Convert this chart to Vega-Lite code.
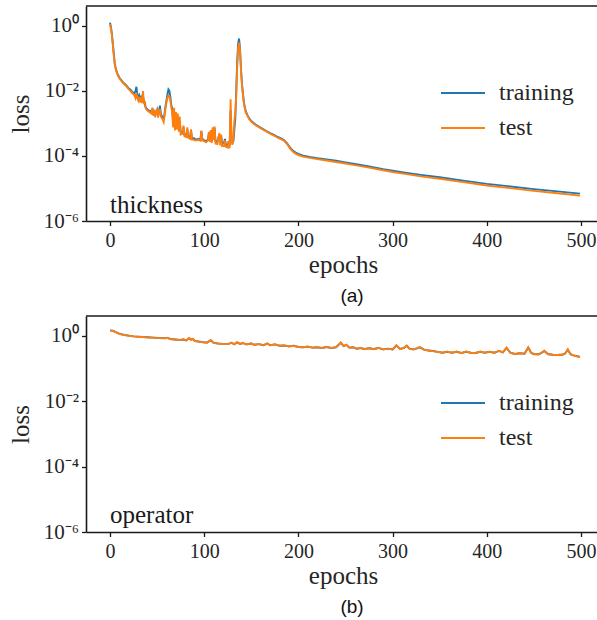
{
  "$schema": "https://vega.github.io/schema/vega-lite/v6.json",
  "padding": {"left": 8, "top": 5, "right": 0, "bottom": 0},
  "background": "white",
  "config": {
    "view": {"stroke": null},
    "font": "Liberation Serif",
    "axis": {"grid": false, "domainColor": "#1a1a1a", "domainWidth": 1.6, "tickColor": "#1a1a1a", "tickWidth": 1.3, "tickSize": 4.5, "labelFont": "Liberation Serif", "labelFontSize": 20, "labelColor": "#262626", "titleFont": "Liberation Serif", "titleFontSize": 25, "titleFontWeight": "normal", "titleColor": "#262626"},
    "axisX": {"labelPadding": 5, "titlePadding": 2, "labelFlush": false},
    "axisY": {"labelPadding": 3, "titlePadding": 10, "labelFontSize": 21},
    "legend": {"orient": "none", "legendX": 354, "legendY": 64, "direction": "vertical", "title": null, "symbolType": "stroke", "symbolSize": 1936, "symbolStrokeWidth": 2, "labelFont": "Liberation Serif", "labelFontSize": 24, "labelColor": "#262626", "labelOffset": 13, "rowPadding": -30, "padding": 0}
  },
  "datasets": {
    "a": [
      {"s":"training","epoch":0,"loss":1.23},{"s":"training","epoch":1,"loss":0.89},{"s":"training","epoch":2,"loss":0.56},{"s":"training","epoch":3,"loss":0.28},{"s":"training","epoch":4,"loss":0.14},{"s":"training","epoch":5,"loss":0.071},{"s":"training","epoch":6,"loss":0.05},{"s":"training","epoch":7,"loss":0.04},{"s":"training","epoch":8,"loss":0.033},{"s":"training","epoch":10,"loss":0.025},{"s":"training","epoch":12,"loss":0.021},{"s":"training","epoch":14,"loss":0.0178},{"s":"training","epoch":16,"loss":0.0158},{"s":"training","epoch":18,"loss":0.0138},{"s":"training","epoch":20,"loss":0.0117},{"s":"training","epoch":22,"loss":0.0105},{"s":"training","epoch":24,"loss":0.0089},{"s":"training","epoch":26,"loss":0.0083},{"s":"training","epoch":27,"loss":0.01},{"s":"training","epoch":28,"loss":0.0132},{"s":"training","epoch":29,"loss":0.0079},{"s":"training","epoch":30,"loss":0.006},{"s":"training","epoch":31,"loss":0.0071},{"s":"training","epoch":32,"loss":0.0052},{"s":"training","epoch":33,"loss":0.0063},{"s":"training","epoch":34,"loss":0.0048},{"s":"training","epoch":35,"loss":0.0071},{"s":"training","epoch":36,"loss":0.0045},{"s":"training","epoch":38,"loss":0.003},{"s":"training","epoch":40,"loss":0.0026},{"s":"training","epoch":42,"loss":0.0024},{"s":"training","epoch":44,"loss":0.0022},{"s":"training","epoch":45,"loss":0.0028},{"s":"training","epoch":46,"loss":0.0019},{"s":"training","epoch":47,"loss":0.0025},{"s":"training","epoch":48,"loss":0.0018},{"s":"training","epoch":50,"loss":0.0026},{"s":"training","epoch":51,"loss":0.00174},{"s":"training","epoch":52,"loss":0.0024},{"s":"training","epoch":53,"loss":0.0035},{"s":"training","epoch":54,"loss":0.0019},{"s":"training","epoch":56,"loss":0.0015},{"s":"training","epoch":57,"loss":0.00126},{"s":"training","epoch":58,"loss":0.0021},{"s":"training","epoch":59,"loss":0.0035},{"s":"training","epoch":60,"loss":0.0052},{"s":"training","epoch":61,"loss":0.0079},{"s":"training","epoch":62,"loss":0.011},{"s":"training","epoch":63,"loss":0.01},{"s":"training","epoch":64,"loss":0.0066},{"s":"training","epoch":65,"loss":0.0038},{"s":"training","epoch":66,"loss":0.0028},{"s":"training","epoch":67,"loss":0.00112},{"s":"training","epoch":68,"loss":0.0024},{"s":"training","epoch":69,"loss":0.00079},{"s":"training","epoch":70,"loss":0.00158},{"s":"training","epoch":71,"loss":0.0019},{"s":"training","epoch":72,"loss":0.00089},{"s":"training","epoch":73,"loss":0.00071},{"s":"training","epoch":74,"loss":0.00112},{"s":"training","epoch":75,"loss":0.00056},{"s":"training","epoch":77,"loss":0.0005},{"s":"training","epoch":78,"loss":0.00076},{"s":"training","epoch":79,"loss":0.00045},{"s":"training","epoch":81,"loss":0.00042},{"s":"training","epoch":82,"loss":0.00066},{"s":"training","epoch":83,"loss":0.0004},{"s":"training","epoch":85,"loss":0.00037},{"s":"training","epoch":86,"loss":0.0006},{"s":"training","epoch":87,"loss":0.00035},{"s":"training","epoch":89,"loss":0.00035},{"s":"training","epoch":90,"loss":0.00033},{"s":"training","epoch":92,"loss":0.00032},{"s":"training","epoch":94,"loss":0.00033},{"s":"training","epoch":96,"loss":0.00032},{"s":"training","epoch":97,"loss":0.00056},{"s":"training","epoch":98,"loss":0.00033},{"s":"training","epoch":100,"loss":0.0003},{"s":"training","epoch":102,"loss":0.00028},{"s":"training","epoch":104,"loss":0.00032},{"s":"training","epoch":105,"loss":0.0005},{"s":"training","epoch":106,"loss":0.0003},{"s":"training","epoch":107,"loss":0.00048},{"s":"training","epoch":108,"loss":0.00028},{"s":"training","epoch":109,"loss":0.00063},{"s":"training","epoch":110,"loss":0.00035},{"s":"training","epoch":111,"loss":0.00071},{"s":"training","epoch":112,"loss":0.00028},{"s":"training","epoch":114,"loss":0.00027},{"s":"training","epoch":116,"loss":0.00045},{"s":"training","epoch":117,"loss":0.00025},{"s":"training","epoch":118,"loss":0.0004},{"s":"training","epoch":119,"loss":0.00025},{"s":"training","epoch":121,"loss":0.00024},{"s":"training","epoch":122,"loss":0.00033},{"s":"training","epoch":123,"loss":0.00022},{"s":"training","epoch":125,"loss":0.00021},{"s":"training","epoch":126,"loss":0.00028},{"s":"training","epoch":127,"loss":0.0002},{"s":"training","epoch":128,"loss":0.0025},{"s":"training","epoch":129,"loss":0.00032},{"s":"training","epoch":130,"loss":0.00025},{"s":"training","epoch":131,"loss":0.00028},{"s":"training","epoch":132,"loss":0.00063},{"s":"training","epoch":133,"loss":0.0014},{"s":"training","epoch":134,"loss":0.01},{"s":"training","epoch":135,"loss":0.079},{"s":"training","epoch":136,"loss":0.28},{"s":"training","epoch":137,"loss":0.4},{"s":"training","epoch":138,"loss":0.2},{"s":"training","epoch":139,"loss":0.05},{"s":"training","epoch":140,"loss":0.0178},{"s":"training","epoch":141,"loss":0.0089},{"s":"training","epoch":142,"loss":0.0048},{"s":"training","epoch":143,"loss":0.0032},{"s":"training","epoch":144,"loss":0.0024},{"s":"training","epoch":146,"loss":0.00174},{"s":"training","epoch":148,"loss":0.00138},{"s":"training","epoch":150,"loss":0.00117},{"s":"training","epoch":152,"loss":0.00105},{"s":"training","epoch":155,"loss":0.00089},{"s":"training","epoch":158,"loss":0.00079},{"s":"training","epoch":162,"loss":0.00068},{"s":"training","epoch":166,"loss":0.00058},{"s":"training","epoch":170,"loss":0.0005},{"s":"training","epoch":174,"loss":0.00044},{"s":"training","epoch":178,"loss":0.00038},{"s":"training","epoch":182,"loss":0.00034},{"s":"training","epoch":185,"loss":0.0003},{"s":"training","epoch":188,"loss":0.00024},{"s":"training","epoch":191,"loss":0.000182},{"s":"training","epoch":194,"loss":0.000145},{"s":"training","epoch":197,"loss":0.000126},{"s":"training","epoch":200,"loss":0.000115},{"s":"training","epoch":205,"loss":0.000102},{"s":"training","epoch":212,"loss":9.3e-5},{"s":"training","epoch":220,"loss":8.5e-5},{"s":"training","epoch":230,"loss":7.8e-5},{"s":"training","epoch":240,"loss":7.1e-5},{"s":"training","epoch":250,"loss":6.3e-5},{"s":"training","epoch":260,"loss":5.6e-5},{"s":"training","epoch":275,"loss":4.7e-5},{"s":"training","epoch":290,"loss":3.9e-5},{"s":"training","epoch":300,"loss":3.5e-5},{"s":"training","epoch":315,"loss":3.0e-5},{"s":"training","epoch":330,"loss":2.6e-5},{"s":"training","epoch":350,"loss":2.2e-5},{"s":"training","epoch":375,"loss":1.74e-5},{"s":"training","epoch":400,"loss":1.38e-5},{"s":"training","epoch":425,"loss":1.15e-5},{"s":"training","epoch":450,"loss":9.5e-6},{"s":"training","epoch":475,"loss":8.1e-6},{"s":"training","epoch":499,"loss":6.9e-6},
      {"s":"test","epoch":0,"loss":1.1},{"s":"test","epoch":1,"loss":0.8},{"s":"test","epoch":2,"loss":0.5},{"s":"test","epoch":3,"loss":0.25},{"s":"test","epoch":4,"loss":0.12},{"s":"test","epoch":5,"loss":0.065},{"s":"test","epoch":6,"loss":0.046},{"s":"test","epoch":7,"loss":0.037},{"s":"test","epoch":8,"loss":0.031},{"s":"test","epoch":10,"loss":0.024},{"s":"test","epoch":12,"loss":0.02},{"s":"test","epoch":14,"loss":0.017},{"s":"test","epoch":16,"loss":0.015},{"s":"test","epoch":18,"loss":0.013},{"s":"test","epoch":20,"loss":0.011},{"s":"test","epoch":22,"loss":0.0095},{"s":"test","epoch":24,"loss":0.0082},{"s":"test","epoch":26,"loss":0.0072},{"s":"test","epoch":27,"loss":0.006},{"s":"test","epoch":28,"loss":0.0085},{"s":"test","epoch":29,"loss":0.006},{"s":"test","epoch":30,"loss":0.005},{"s":"test","epoch":31,"loss":0.0065},{"s":"test","epoch":32,"loss":0.0045},{"s":"test","epoch":33,"loss":0.0055},{"s":"test","epoch":34,"loss":0.0042},{"s":"test","epoch":35,"loss":0.0098},{"s":"test","epoch":36,"loss":0.004},{"s":"test","epoch":37,"loss":0.0048},{"s":"test","epoch":38,"loss":0.0028},{"s":"test","epoch":40,"loss":0.0024},{"s":"test","epoch":42,"loss":0.0022},{"s":"test","epoch":44,"loss":0.002},{"s":"test","epoch":45,"loss":0.003},{"s":"test","epoch":46,"loss":0.0017},{"s":"test","epoch":47,"loss":0.0026},{"s":"test","epoch":48,"loss":0.0016},{"s":"test","epoch":50,"loss":0.0028},{"s":"test","epoch":51,"loss":0.0015},{"s":"test","epoch":52,"loss":0.0022},{"s":"test","epoch":53,"loss":0.0027},{"s":"test","epoch":54,"loss":0.0016},{"s":"test","epoch":56,"loss":0.0013},{"s":"test","epoch":57,"loss":0.0011},{"s":"test","epoch":58,"loss":0.0018},{"s":"test","epoch":59,"loss":0.003},{"s":"test","epoch":60,"loss":0.0045},{"s":"test","epoch":61,"loss":0.006},{"s":"test","epoch":62,"loss":0.0072},{"s":"test","epoch":63,"loss":0.0068},{"s":"test","epoch":64,"loss":0.005},{"s":"test","epoch":65,"loss":0.0032},{"s":"test","epoch":66,"loss":0.0022},{"s":"test","epoch":67,"loss":0.00075},{"s":"test","epoch":68,"loss":0.003},{"s":"test","epoch":69,"loss":0.0006},{"s":"test","epoch":70,"loss":0.0022},{"s":"test","epoch":71,"loss":0.00065},{"s":"test","epoch":72,"loss":0.002},{"s":"test","epoch":73,"loss":0.00055},{"s":"test","epoch":74,"loss":0.0016},{"s":"test","epoch":75,"loss":0.00045},{"s":"test","epoch":77,"loss":0.00048},{"s":"test","epoch":78,"loss":0.00085},{"s":"test","epoch":79,"loss":0.0004},{"s":"test","epoch":81,"loss":0.00038},{"s":"test","epoch":82,"loss":0.00075},{"s":"test","epoch":83,"loss":0.00036},{"s":"test","epoch":85,"loss":0.00033},{"s":"test","epoch":86,"loss":0.00065},{"s":"test","epoch":87,"loss":0.00032},{"s":"test","epoch":89,"loss":0.00031},{"s":"test","epoch":90,"loss":0.0003},{"s":"test","epoch":92,"loss":0.0003},{"s":"test","epoch":94,"loss":0.00031},{"s":"test","epoch":96,"loss":0.00029},{"s":"test","epoch":97,"loss":0.0006},{"s":"test","epoch":98,"loss":0.0003},{"s":"test","epoch":100,"loss":0.00028},{"s":"test","epoch":102,"loss":0.00026},{"s":"test","epoch":104,"loss":0.0003},{"s":"test","epoch":105,"loss":0.00055},{"s":"test","epoch":106,"loss":0.00027},{"s":"test","epoch":107,"loss":0.00062},{"s":"test","epoch":108,"loss":0.00025},{"s":"test","epoch":109,"loss":0.00075},{"s":"test","epoch":110,"loss":0.0003},{"s":"test","epoch":111,"loss":0.0008},{"s":"test","epoch":112,"loss":0.00024},{"s":"test","epoch":114,"loss":0.00023},{"s":"test","epoch":116,"loss":0.0005},{"s":"test","epoch":117,"loss":0.00021},{"s":"test","epoch":118,"loss":0.00045},{"s":"test","epoch":119,"loss":0.0002},{"s":"test","epoch":121,"loss":0.0002},{"s":"test","epoch":122,"loss":0.0003},{"s":"test","epoch":123,"loss":0.00019},{"s":"test","epoch":125,"loss":0.00018},{"s":"test","epoch":126,"loss":0.00028},{"s":"test","epoch":127,"loss":0.00017},{"s":"test","epoch":128,"loss":0.0055},{"s":"test","epoch":129,"loss":0.0003},{"s":"test","epoch":130,"loss":0.00022},{"s":"test","epoch":131,"loss":0.00035},{"s":"test","epoch":132,"loss":0.0012},{"s":"test","epoch":133,"loss":0.002},{"s":"test","epoch":134,"loss":0.007},{"s":"test","epoch":135,"loss":0.05},{"s":"test","epoch":136,"loss":0.2},{"s":"test","epoch":137,"loss":0.3},{"s":"test","epoch":138,"loss":0.18},{"s":"test","epoch":139,"loss":0.045},{"s":"test","epoch":140,"loss":0.016},{"s":"test","epoch":141,"loss":0.008},{"s":"test","epoch":142,"loss":0.0044},{"s":"test","epoch":143,"loss":0.003},{"s":"test","epoch":144,"loss":0.0022},{"s":"test","epoch":146,"loss":0.00165},{"s":"test","epoch":148,"loss":0.0013},{"s":"test","epoch":150,"loss":0.00112},{"s":"test","epoch":152,"loss":0.001},{"s":"test","epoch":155,"loss":0.00085},{"s":"test","epoch":158,"loss":0.00076},{"s":"test","epoch":162,"loss":0.00065},{"s":"test","epoch":166,"loss":0.00056},{"s":"test","epoch":170,"loss":0.00048},{"s":"test","epoch":174,"loss":0.00042},{"s":"test","epoch":178,"loss":0.00036},{"s":"test","epoch":182,"loss":0.00032},{"s":"test","epoch":185,"loss":0.00029},{"s":"test","epoch":188,"loss":0.00023},{"s":"test","epoch":191,"loss":0.00017},{"s":"test","epoch":194,"loss":0.000135},{"s":"test","epoch":197,"loss":0.000117},{"s":"test","epoch":200,"loss":0.000106},{"s":"test","epoch":205,"loss":9.5e-5},{"s":"test","epoch":212,"loss":8.7e-5},{"s":"test","epoch":220,"loss":7.9e-5},{"s":"test","epoch":230,"loss":7.2e-5},{"s":"test","epoch":240,"loss":6.5e-5},{"s":"test","epoch":250,"loss":5.8e-5},{"s":"test","epoch":260,"loss":5.2e-5},{"s":"test","epoch":275,"loss":4.35e-5},{"s":"test","epoch":290,"loss":3.6e-5},{"s":"test","epoch":300,"loss":3.2e-5},{"s":"test","epoch":315,"loss":2.75e-5},{"s":"test","epoch":330,"loss":2.35e-5},{"s":"test","epoch":350,"loss":1.98e-5},{"s":"test","epoch":375,"loss":1.56e-5},{"s":"test","epoch":400,"loss":1.23e-5},{"s":"test","epoch":425,"loss":1.02e-5},{"s":"test","epoch":450,"loss":8.4e-6},{"s":"test","epoch":475,"loss":7.1e-6},{"s":"test","epoch":499,"loss":6.0e-6}
    ],
    "b": [
      {"s":"training","epoch":0,"loss":1.45},{"s":"training","epoch":3,"loss":1.41},{"s":"training","epoch":6,"loss":1.29},{"s":"training","epoch":9,"loss":1.17},{"s":"training","epoch":12,"loss":1.1},{"s":"training","epoch":15,"loss":1.05},{"s":"training","epoch":20,"loss":1.0},{"s":"training","epoch":25,"loss":0.95},{"s":"training","epoch":30,"loss":0.93},{"s":"training","epoch":35,"loss":0.91},{"s":"training","epoch":40,"loss":0.89},{"s":"training","epoch":46,"loss":0.87},{"s":"training","epoch":52,"loss":0.85},{"s":"training","epoch":58,"loss":0.83},{"s":"training","epoch":61,"loss":0.85},{"s":"training","epoch":64,"loss":0.79},{"s":"training","epoch":70,"loss":0.76},{"s":"training","epoch":74,"loss":0.74},{"s":"training","epoch":78,"loss":0.76},{"s":"training","epoch":81,"loss":0.72},{"s":"training","epoch":84,"loss":0.83},{"s":"training","epoch":86,"loss":0.76},{"s":"training","epoch":88,"loss":0.79},{"s":"training","epoch":90,"loss":0.69},{"s":"training","epoch":94,"loss":0.66},{"s":"training","epoch":99,"loss":0.63},{"s":"training","epoch":103,"loss":0.62},{"s":"training","epoch":107,"loss":0.72},{"s":"training","epoch":110,"loss":0.6},{"s":"training","epoch":115,"loss":0.575},{"s":"training","epoch":120,"loss":0.56},{"s":"training","epoch":125,"loss":0.55},{"s":"training","epoch":129,"loss":0.6},{"s":"training","epoch":132,"loss":0.55},{"s":"training","epoch":135,"loss":0.62},{"s":"training","epoch":138,"loss":0.56},{"s":"training","epoch":141,"loss":0.59},{"s":"training","epoch":145,"loss":0.54},{"s":"training","epoch":150,"loss":0.575},{"s":"training","epoch":153,"loss":0.525},{"s":"training","epoch":158,"loss":0.55},{"s":"training","epoch":163,"loss":0.51},{"s":"training","epoch":167,"loss":0.575},{"s":"training","epoch":170,"loss":0.51},{"s":"training","epoch":175,"loss":0.54},{"s":"training","epoch":180,"loss":0.49},{"s":"training","epoch":185,"loss":0.5},{"s":"training","epoch":190,"loss":0.47},{"s":"training","epoch":195,"loss":0.49},{"s":"training","epoch":200,"loss":0.45},{"s":"training","epoch":205,"loss":0.44},{"s":"training","epoch":210,"loss":0.46},{"s":"training","epoch":215,"loss":0.43},{"s":"training","epoch":220,"loss":0.44},{"s":"training","epoch":225,"loss":0.42},{"s":"training","epoch":230,"loss":0.45},{"s":"training","epoch":235,"loss":0.42},{"s":"training","epoch":240,"loss":0.44},{"s":"training","epoch":245,"loss":0.6},{"s":"training","epoch":248,"loss":0.48},{"s":"training","epoch":251,"loss":0.525},{"s":"training","epoch":254,"loss":0.43},{"s":"training","epoch":258,"loss":0.44},{"s":"training","epoch":262,"loss":0.4},{"s":"training","epoch":266,"loss":0.42},{"s":"training","epoch":270,"loss":0.39},{"s":"training","epoch":275,"loss":0.41},{"s":"training","epoch":280,"loss":0.39},{"s":"training","epoch":285,"loss":0.42},{"s":"training","epoch":290,"loss":0.38},{"s":"training","epoch":295,"loss":0.4},{"s":"training","epoch":300,"loss":0.38},{"s":"training","epoch":304,"loss":0.5},{"s":"training","epoch":308,"loss":0.39},{"s":"training","epoch":312,"loss":0.42},{"s":"training","epoch":315,"loss":0.49},{"s":"training","epoch":318,"loss":0.4},{"s":"training","epoch":322,"loss":0.38},{"s":"training","epoch":326,"loss":0.41},{"s":"training","epoch":329,"loss":0.44},{"s":"training","epoch":333,"loss":0.38},{"s":"training","epoch":338,"loss":0.35},{"s":"training","epoch":343,"loss":0.34},{"s":"training","epoch":348,"loss":0.32},{"s":"training","epoch":353,"loss":0.3},{"s":"training","epoch":358,"loss":0.32},{"s":"training","epoch":363,"loss":0.3},{"s":"training","epoch":368,"loss":0.32},{"s":"training","epoch":373,"loss":0.295},{"s":"training","epoch":378,"loss":0.32},{"s":"training","epoch":383,"loss":0.3},{"s":"training","epoch":388,"loss":0.295},{"s":"training","epoch":393,"loss":0.32},{"s":"training","epoch":398,"loss":0.3},{"s":"training","epoch":403,"loss":0.32},{"s":"training","epoch":408,"loss":0.3},{"s":"training","epoch":413,"loss":0.34},{"s":"training","epoch":417,"loss":0.31},{"s":"training","epoch":421,"loss":0.42},{"s":"training","epoch":425,"loss":0.3},{"s":"training","epoch":430,"loss":0.275},{"s":"training","epoch":435,"loss":0.29},{"s":"training","epoch":440,"loss":0.28},{"s":"training","epoch":444,"loss":0.43},{"s":"training","epoch":447,"loss":0.3},{"s":"training","epoch":450,"loss":0.275},{"s":"training","epoch":455,"loss":0.27},{"s":"training","epoch":458,"loss":0.295},{"s":"training","epoch":461,"loss":0.34},{"s":"training","epoch":465,"loss":0.275},{"s":"training","epoch":470,"loss":0.26},{"s":"training","epoch":475,"loss":0.257},{"s":"training","epoch":480,"loss":0.26},{"s":"training","epoch":483,"loss":0.28},{"s":"training","epoch":486,"loss":0.37},{"s":"training","epoch":489,"loss":0.27},{"s":"training","epoch":492,"loss":0.25},{"s":"training","epoch":495,"loss":0.24},{"s":"training","epoch":499,"loss":0.224},
      {"s":"test","epoch":0,"loss":1.42},{"s":"test","epoch":3,"loss":1.39},{"s":"test","epoch":6,"loss":1.27},{"s":"test","epoch":9,"loss":1.15},{"s":"test","epoch":12,"loss":1.09},{"s":"test","epoch":15,"loss":1.04},{"s":"test","epoch":20,"loss":0.99},{"s":"test","epoch":25,"loss":0.95},{"s":"test","epoch":30,"loss":0.92},{"s":"test","epoch":35,"loss":0.91},{"s":"test","epoch":40,"loss":0.88},{"s":"test","epoch":46,"loss":0.87},{"s":"test","epoch":52,"loss":0.84},{"s":"test","epoch":58,"loss":0.84},{"s":"test","epoch":61,"loss":0.86},{"s":"test","epoch":64,"loss":0.78},{"s":"test","epoch":70,"loss":0.75},{"s":"test","epoch":74,"loss":0.73},{"s":"test","epoch":78,"loss":0.78},{"s":"test","epoch":81,"loss":0.71},{"s":"test","epoch":84,"loss":0.86},{"s":"test","epoch":86,"loss":0.74},{"s":"test","epoch":88,"loss":0.8},{"s":"test","epoch":90,"loss":0.68},{"s":"test","epoch":94,"loss":0.66},{"s":"test","epoch":99,"loss":0.62},{"s":"test","epoch":103,"loss":0.61},{"s":"test","epoch":107,"loss":0.74},{"s":"test","epoch":110,"loss":0.6},{"s":"test","epoch":115,"loss":0.57},{"s":"test","epoch":120,"loss":0.555},{"s":"test","epoch":125,"loss":0.55},{"s":"test","epoch":129,"loss":0.61},{"s":"test","epoch":132,"loss":0.545},{"s":"test","epoch":135,"loss":0.63},{"s":"test","epoch":138,"loss":0.555},{"s":"test","epoch":141,"loss":0.6},{"s":"test","epoch":145,"loss":0.535},{"s":"test","epoch":150,"loss":0.58},{"s":"test","epoch":153,"loss":0.52},{"s":"test","epoch":158,"loss":0.56},{"s":"test","epoch":163,"loss":0.505},{"s":"test","epoch":167,"loss":0.58},{"s":"test","epoch":170,"loss":0.505},{"s":"test","epoch":175,"loss":0.545},{"s":"test","epoch":180,"loss":0.49},{"s":"test","epoch":185,"loss":0.505},{"s":"test","epoch":190,"loss":0.465},{"s":"test","epoch":195,"loss":0.49},{"s":"test","epoch":200,"loss":0.445},{"s":"test","epoch":205,"loss":0.44},{"s":"test","epoch":210,"loss":0.465},{"s":"test","epoch":215,"loss":0.425},{"s":"test","epoch":220,"loss":0.445},{"s":"test","epoch":225,"loss":0.415},{"s":"test","epoch":230,"loss":0.455},{"s":"test","epoch":235,"loss":0.415},{"s":"test","epoch":240,"loss":0.445},{"s":"test","epoch":245,"loss":0.62},{"s":"test","epoch":248,"loss":0.48},{"s":"test","epoch":251,"loss":0.53},{"s":"test","epoch":254,"loss":0.425},{"s":"test","epoch":258,"loss":0.445},{"s":"test","epoch":262,"loss":0.395},{"s":"test","epoch":266,"loss":0.425},{"s":"test","epoch":270,"loss":0.385},{"s":"test","epoch":275,"loss":0.415},{"s":"test","epoch":280,"loss":0.385},{"s":"test","epoch":285,"loss":0.425},{"s":"test","epoch":290,"loss":0.375},{"s":"test","epoch":295,"loss":0.4},{"s":"test","epoch":300,"loss":0.375},{"s":"test","epoch":304,"loss":0.51},{"s":"test","epoch":308,"loss":0.385},{"s":"test","epoch":312,"loss":0.425},{"s":"test","epoch":315,"loss":0.5},{"s":"test","epoch":318,"loss":0.395},{"s":"test","epoch":322,"loss":0.375},{"s":"test","epoch":326,"loss":0.415},{"s":"test","epoch":329,"loss":0.45},{"s":"test","epoch":333,"loss":0.375},{"s":"test","epoch":338,"loss":0.35},{"s":"test","epoch":343,"loss":0.335},{"s":"test","epoch":348,"loss":0.32},{"s":"test","epoch":353,"loss":0.3},{"s":"test","epoch":358,"loss":0.325},{"s":"test","epoch":363,"loss":0.3},{"s":"test","epoch":368,"loss":0.325},{"s":"test","epoch":373,"loss":0.29},{"s":"test","epoch":378,"loss":0.325},{"s":"test","epoch":383,"loss":0.3},{"s":"test","epoch":388,"loss":0.29},{"s":"test","epoch":393,"loss":0.325},{"s":"test","epoch":398,"loss":0.3},{"s":"test","epoch":403,"loss":0.325},{"s":"test","epoch":408,"loss":0.295},{"s":"test","epoch":413,"loss":0.345},{"s":"test","epoch":417,"loss":0.31},{"s":"test","epoch":421,"loss":0.43},{"s":"test","epoch":425,"loss":0.3},{"s":"test","epoch":430,"loss":0.27},{"s":"test","epoch":435,"loss":0.295},{"s":"test","epoch":440,"loss":0.28},{"s":"test","epoch":444,"loss":0.44},{"s":"test","epoch":447,"loss":0.3},{"s":"test","epoch":450,"loss":0.27},{"s":"test","epoch":455,"loss":0.265},{"s":"test","epoch":458,"loss":0.3},{"s":"test","epoch":461,"loss":0.345},{"s":"test","epoch":465,"loss":0.27},{"s":"test","epoch":470,"loss":0.26},{"s":"test","epoch":475,"loss":0.255},{"s":"test","epoch":480,"loss":0.265},{"s":"test","epoch":483,"loss":0.285},{"s":"test","epoch":486,"loss":0.38},{"s":"test","epoch":489,"loss":0.265},{"s":"test","epoch":492,"loss":0.25},{"s":"test","epoch":495,"loss":0.235},{"s":"test","epoch":499,"loss":0.22}
    ]
  },
  "spacing": 9,
  "resolve": {"scale": {"color": "independent"}, "legend": {"color": "independent"}},
  "vconcat": [
    {
      "width": 514, "height": 215,
      "title": {"text": "(a)", "orient": "bottom", "frame": "group", "anchor": "middle", "dx": 9, "offset": 9, "font": "Liberation Sans", "fontSize": 19, "fontWeight": "normal", "color": "#111"},
      "layer": [
        {
          "data": {"name": "a"},
          "transform": [{"filter": "datum.s === 'training'"}],
          "mark": {"type": "line", "strokeWidth": 1.9, "clip": true},
          "encoding": {
            "x": {"field": "epoch", "type": "quantitative", "scale": {"domain": [-25.5, 520.2], "nice": false, "zero": false}, "axis": {"title": "epochs", "values": [0, 100, 200, 300, 400, 500]}},
            "y": {"field": "loss", "type": "quantitative", "scale": {"type": "log", "domain": [1e-6, 3.98], "nice": false}, "axis": {"title": "loss", "values": [1e-6, 1e-4, 1e-2, 1], "labelExpr": "datum.value > 0.1 ? '10⁰' : datum.value > 0.001 ? '10⁻²' : datum.value > 0.00001 ? '10⁻⁴' : '10⁻⁶'"}},
            "color": {"field": "s", "type": "nominal", "scale": {"domain": ["training", "test"], "range": ["#1f77b4", "#ff7f0e"]}, "legend": {}}
          }
        },
        {
          "data": {"name": "a"},
          "transform": [{"filter": "datum.s === 'test'"}],
          "mark": {"type": "line", "strokeWidth": 1.9, "clip": true},
          "encoding": {
            "x": {"field": "epoch", "type": "quantitative", "title": "epochs"},
            "y": {"field": "loss", "type": "quantitative", "title": "loss"},
            "color": {"field": "s", "type": "nominal"}
          }
        },
        {
          "data": {"values": [{"label": "thickness"}]},
          "mark": {"type": "text", "align": "left", "baseline": "alphabetic", "font": "Liberation Serif", "fontSize": 25, "color": "#1a1a1a"},
          "encoding": {"text": {"field": "label"}, "x": {"datum": 0, "type": "quantitative", "title": "epochs"}, "y": {"datum": 1.8e-6, "type": "quantitative", "title": "loss"}}
        },
        {
          "data": {"values": [{}]},
          "mark": {"type": "rule", "color": "#1a1a1a", "strokeWidth": 1.6},
          "encoding": {"y": {"datum": 3.98, "type": "quantitative", "title": "loss"}}
        }
      ]
    },
    {
      "width": 514, "height": 216,
      "title": {"text": "(b)", "orient": "bottom", "frame": "group", "anchor": "middle", "dx": 9, "offset": 9, "font": "Liberation Sans", "fontSize": 19, "fontWeight": "normal", "color": "#111"},
      "layer": [
        {
          "data": {"name": "b"},
          "transform": [{"filter": "datum.s === 'training'"}],
          "mark": {"type": "line", "strokeWidth": 1.9, "clip": true},
          "encoding": {
            "x": {"field": "epoch", "type": "quantitative", "scale": {"domain": [-25.5, 520.2], "nice": false, "zero": false}, "axis": {"title": "epochs", "values": [0, 100, 200, 300, 400, 500]}},
            "y": {"field": "loss", "type": "quantitative", "scale": {"type": "log", "domain": [1e-6, 3.98], "nice": false}, "axis": {"title": "loss", "values": [1e-6, 1e-4, 1e-2, 1], "labelExpr": "datum.value > 0.1 ? '10⁰' : datum.value > 0.001 ? '10⁻²' : datum.value > 0.00001 ? '10⁻⁴' : '10⁻⁶'"}},
            "color": {"field": "s", "type": "nominal", "scale": {"domain": ["training", "test"], "range": ["#1f77b4", "#ff7f0e"]}, "legend": {}}
          }
        },
        {
          "data": {"name": "b"},
          "transform": [{"filter": "datum.s === 'test'"}],
          "mark": {"type": "line", "strokeWidth": 1.9, "clip": true},
          "encoding": {
            "x": {"field": "epoch", "type": "quantitative", "title": "epochs"},
            "y": {"field": "loss", "type": "quantitative", "title": "loss"},
            "color": {"field": "s", "type": "nominal"}
          }
        },
        {
          "data": {"values": [{"label": "operator"}]},
          "mark": {"type": "text", "align": "left", "baseline": "alphabetic", "font": "Liberation Serif", "fontSize": 25, "color": "#1a1a1a"},
          "encoding": {"text": {"field": "label"}, "x": {"datum": 0, "type": "quantitative", "title": "epochs"}, "y": {"datum": 1.9e-6, "type": "quantitative", "title": "loss"}}
        },
        {
          "data": {"values": [{}]},
          "mark": {"type": "rule", "color": "#1a1a1a", "strokeWidth": 1.6},
          "encoding": {"y": {"datum": 3.98, "type": "quantitative", "title": "loss"}}
        }
      ]
    }
  ]
}
